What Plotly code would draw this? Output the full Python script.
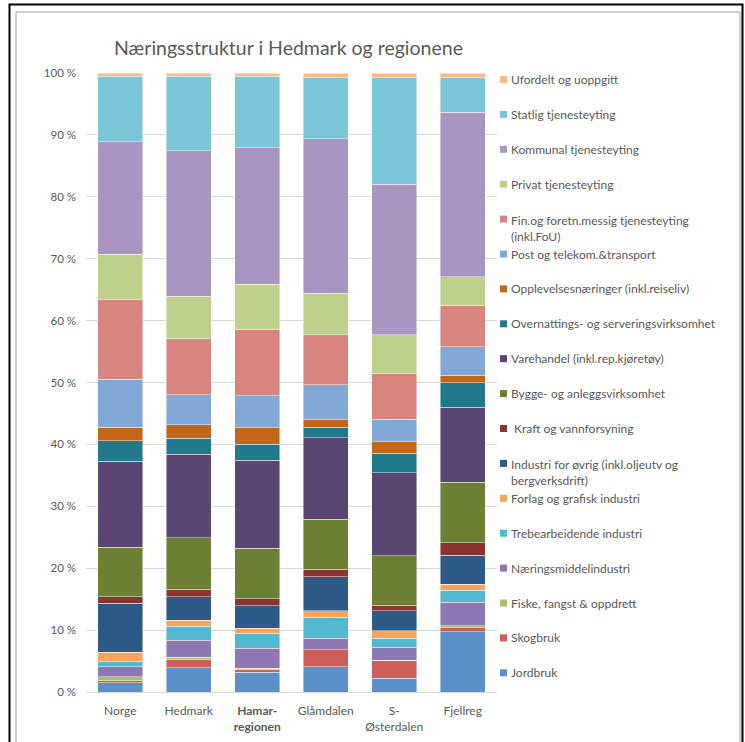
import plotly.graph_objects as go

# Regions along the x axis
regions = ["Norge", "Hedmark", "Hamar-regionen", "Glåmdalen", "S-Østerdalen", "Fjellreg"]
region_labels = ["Norge", "Hedmark", "<b>Hamar-<br>regionen</b>", "Glåmdalen", "S-<br>Østerdalen", "Fjellreg"]

# Percent axis ticks
pct_ticks = list(range(0, 101, 10))
pct_labels = [f"{v} %" for v in pct_ticks]

# Share of employment (%) per sector, bottom of the stack first
jordbruk        = [1.5, 3.9, 3.2, 4.1, 2.2, 9.7]
skogbruk        = [0.3, 1.3, 0.5, 2.7, 2.9, 0.7]
fiske           = [0.7, 0.4, 0.1, 0.0, 0.0, 0.3]
naeringsmiddel  = [1.6, 2.8, 3.3, 1.9, 2.1, 3.8]
trebearbeidende = [0.8, 2.2, 2.4, 3.4, 1.5, 1.9]
forlag          = [1.5, 1.0, 0.8, 1.0, 1.2, 1.0]
industri        = [7.9, 3.8, 3.6, 5.5, 3.2, 4.7]
kraft           = [1.1, 1.2, 1.2, 1.2, 0.9, 2.0]
bygge           = [8.0, 8.3, 8.1, 8.1, 8.0, 9.8]
varehandel      = [13.9, 13.5, 14.2, 13.2, 13.4, 12.1]
overnatting     = [3.3, 2.6, 2.6, 1.7, 3.2, 4.0]
opplevelse      = [2.2, 2.2, 2.7, 1.2, 1.8, 1.2]
post            = [7.7, 4.8, 5.2, 5.6, 3.7, 4.6]
finans          = [12.9, 9.1, 10.7, 8.1, 7.4, 6.7]
privat          = [7.3, 6.8, 7.3, 6.7, 6.2, 4.6]
kommunal        = [18.2, 23.5, 22.0, 25.0, 24.3, 26.6]
statlig         = [10.6, 12.1, 11.6, 9.8, 17.2, 5.5]
ufordelt        = [0.5, 0.5, 0.5, 0.8, 0.8, 0.8]

sectors = [
    ("Jordbruk", "#5B90C8", jordbruk),
    ("Skogbruk", "#CD5F58", skogbruk),
    ("Fiske, fangst & oppdrett", "#A3C463", fiske),
    ("Næringsmiddelindustri", "#8E78B3", naeringsmiddel),
    ("Trebearbeidende industri", "#52B9D1", trebearbeidende),
    ("Forlag og grafisk industri", "#F6A55A", forlag),
    ("Industri for øvrig (inkl.oljeutv og<br>bergverksdrift)", "#2E5A87", industri),
    (" Kraft og vannforsyning", "#8B3431", kraft),
    ("Bygge- og anleggsvirksomhet", "#6B8033", bygge),
    ("Varehandel (inkl.rep.kjøretøy)", "#5A4672", varehandel),
    ("Overnattings- og serveringsvirksomhet", "#217A8C", overnatting),
    ("Opplevelsesnæringer (inkl.reiseliv)", "#C4661A", opplevelse),
    ("Post og telekom.&transport", "#82A8D6", post),
    ("Fin.og foretn.messig tjenesteyting<br>(inkl.FoU)", "#D8847F", finans),
    ("Privat tjenesteyting", "#BDD08C", privat),
    ("Kommunal tjenesteyting", "#A895C2", kommunal),
    ("Statlig tjenesteyting", "#7BC5D9", statlig),
    ("Ufordelt og uoppgitt", "#F9BB80", ufordelt),
]

W, H = 745, 742
ML, MR, MT, MB = 86, 248, 73, 50
PW, PH = W - ML - MR, H - MT - MB


def px(x):
    return (x - ML) / PW


def py(y):
    return (H - MB - y) / PH


fig = go.Figure()
for name, color, vals in sectors:
    fig.add_trace(go.Bar(
        x=regions, y=vals, name=name.replace("<br>", " "),
        marker=dict(color=color, line=dict(color="rgba(255,255,255,0.55)", width=0.8)),
        showlegend=False,
    ))

shapes = []
annotations = []

# Legend column, top entry first
font_grey = "#595959"
for i, (name, color, _) in enumerate(reversed(sectors)):
    yc = 79.5 + 34.9 * i
    shapes.append(dict(type="rect", xref="paper", yref="paper",
                       x0=px(500), x1=px(507), y0=py(yc + 3.5), y1=py(yc - 3.5),
                       fillcolor=color, line=dict(width=0)))
    two_lines = "<br>" in name
    annotations.append(dict(
        text=name, xref="paper", yref="paper", x=px(509), y=py(yc - 8.5 if two_lines else yc),
        xanchor="left", yanchor="top" if two_lines else "middle", align="left",
        showarrow=False, font=dict(family="Lato", size=12, color=font_grey),
    ))

# Title
annotations.append(dict(
    text="Næringsstruktur i Hedmark og regionene", xref="paper", yref="paper",
    x=px(112), y=py(48), xanchor="left", yanchor="middle", showarrow=False,
    font=dict(family="Lato", size=19.5, color=font_grey),
))

# Frame around the chart
shapes.append(dict(type="rect", xref="paper", yref="paper",
                   x0=px(9.5), x1=px(742.5), y0=py(770), y1=py(4.5),
                   line=dict(color="#000000", width=2), fillcolor="rgba(0,0,0,0)", layer="above"))
shapes.append(dict(type="rect", xref="paper", yref="paper",
                   x0=px(16), x1=px(740), y0=py(770), y1=py(12),
                   line=dict(color="#A0A0A0", width=1), fillcolor="rgba(0,0,0,0)", layer="above"))

fig.update_layout(
    width=W, height=H,
    margin=dict(l=ML, r=MR, t=MT, b=MB, autoexpand=False),
    barmode="stack", bargap=0.343,
    plot_bgcolor="white", paper_bgcolor="white",
    font=dict(family="Lato", size=12, color=font_grey),
    shapes=shapes, annotations=annotations,
    xaxis=dict(
        tickvals=regions, ticktext=region_labels,
        showgrid=False, showline=True, linecolor="#D9D9D9", linewidth=1,
        ticks="", ticklabelstandoff=8,
        tickfont=dict(family="Lato", size=12, color=font_grey),
        fixedrange=True,
    ),
    yaxis=dict(
        range=[0, 100], tickvals=pct_ticks, ticktext=pct_labels,
        showgrid=True, gridcolor="#D9D9D9", gridwidth=1, zeroline=False,
        ticks="", ticklabelstandoff=9,
        tickfont=dict(family="Lato", size=11.5, color=font_grey),
        fixedrange=True,
    ),
)

fig.write_html("out.html")
